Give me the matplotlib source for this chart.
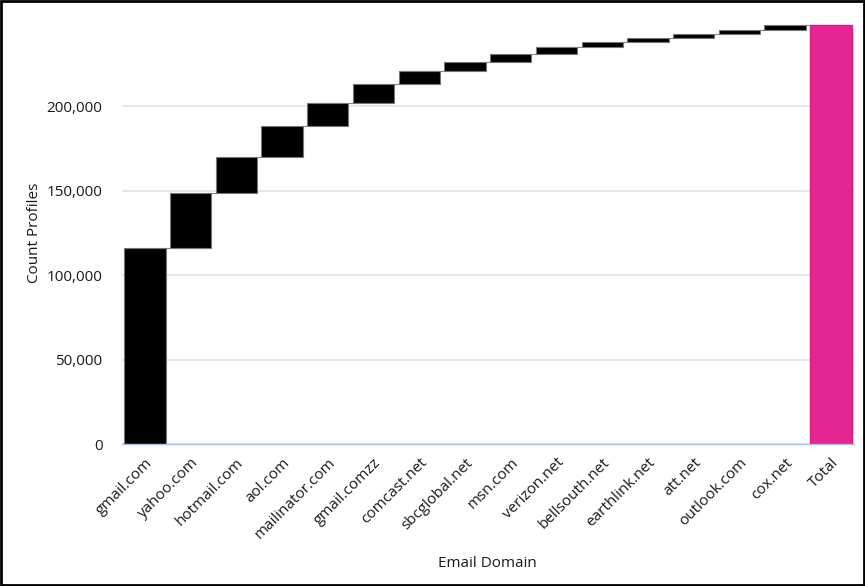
import matplotlib.pyplot as plt
from matplotlib.patches import Rectangle
import numpy as np

# --- data ---
domains = ['gmail.com', 'yahoo.com', 'hotmail.com', 'aol.com', 'mailinator.com',
           'gmail.comzz', 'comcast.net', 'sbcglobal.net', 'msn.com', 'verizon.net',
           'bellsouth.net', 'earthlink.net', 'att.net', 'outlook.com', 'cox.net']
counts = [116000, 32500, 21500, 18500, 13400, 11200, 7900, 5300, 4700,
          3800, 3000, 2400, 2400, 2500, 2700]
y_ticks = [0, 50000, 100000, 150000, 200000]

plt.rcParams['font.family'] = ['Open Sans', 'DejaVu Sans']

fig = plt.figure(figsize=(8.65, 5.86), dpi=100)
ax = fig.add_axes([0.141, 0.2423, 0.846, 0.7207])

cum = np.cumsum(counts)
starts = cum - np.array(counts)
total = cum[-1]
n = len(domains)
x = np.arange(n + 1)
w = 0.905

ax.bar(x[:n], counts, bottom=starts, width=w, color='black',
       edgecolor='#777777', linewidth=0.8, zorder=3)
ax.bar(x[n], total, width=w, color='#e52592', edgecolor='#e0187f',
       linewidth=1.0, zorder=3)

# connector lines between steps
for i in range(n):
    ax.plot([x[i] + w / 2, x[i + 1] - w / 2], [cum[i], cum[i]],
            color='#888888', lw=0.8, zorder=2)

ax.set_xlim(-0.5, n + 0.5)
ax.set_ylim(0, 250000)
ax.set_yticks(y_ticks)
ax.set_yticklabels([f'{v:,}' for v in y_ticks])
ax.set_xticks(x)
ax.set_xticklabels(domains + ['Total'], rotation=45, ha='right',
                   rotation_mode='anchor')
ax.tick_params(axis='y', length=0, pad=14, labelsize=11, labelcolor='#1a1a1a')
ax.tick_params(axis='x', length=0, pad=8, labelsize=11, labelcolor='#1a1a1a')

ax.grid(axis='y', color='#e3e3e3', lw=1.2, zorder=0)
ax.set_axisbelow(True)
for s in ['top', 'right', 'left']:
    ax.spines[s].set_visible(False)
ax.spines['bottom'].set_color('#a9c1ea')
ax.spines['bottom'].set_linewidth(1.0)
ax.spines['bottom'].set_zorder(4)

ax.set_ylabel('Count Profiles', fontsize=11, color='#1a1a1a', labelpad=3)
ax.set_xlabel('Email Domain', fontsize=11, color='#1a1a1a', labelpad=10)

# outer frame
fig.patches.append(Rectangle((0.001, 0.001), 0.998, 0.997, transform=fig.transFigure,
                             fill=False, edgecolor='black', lw=2))

fig.savefig('out.png', dpi=100)
